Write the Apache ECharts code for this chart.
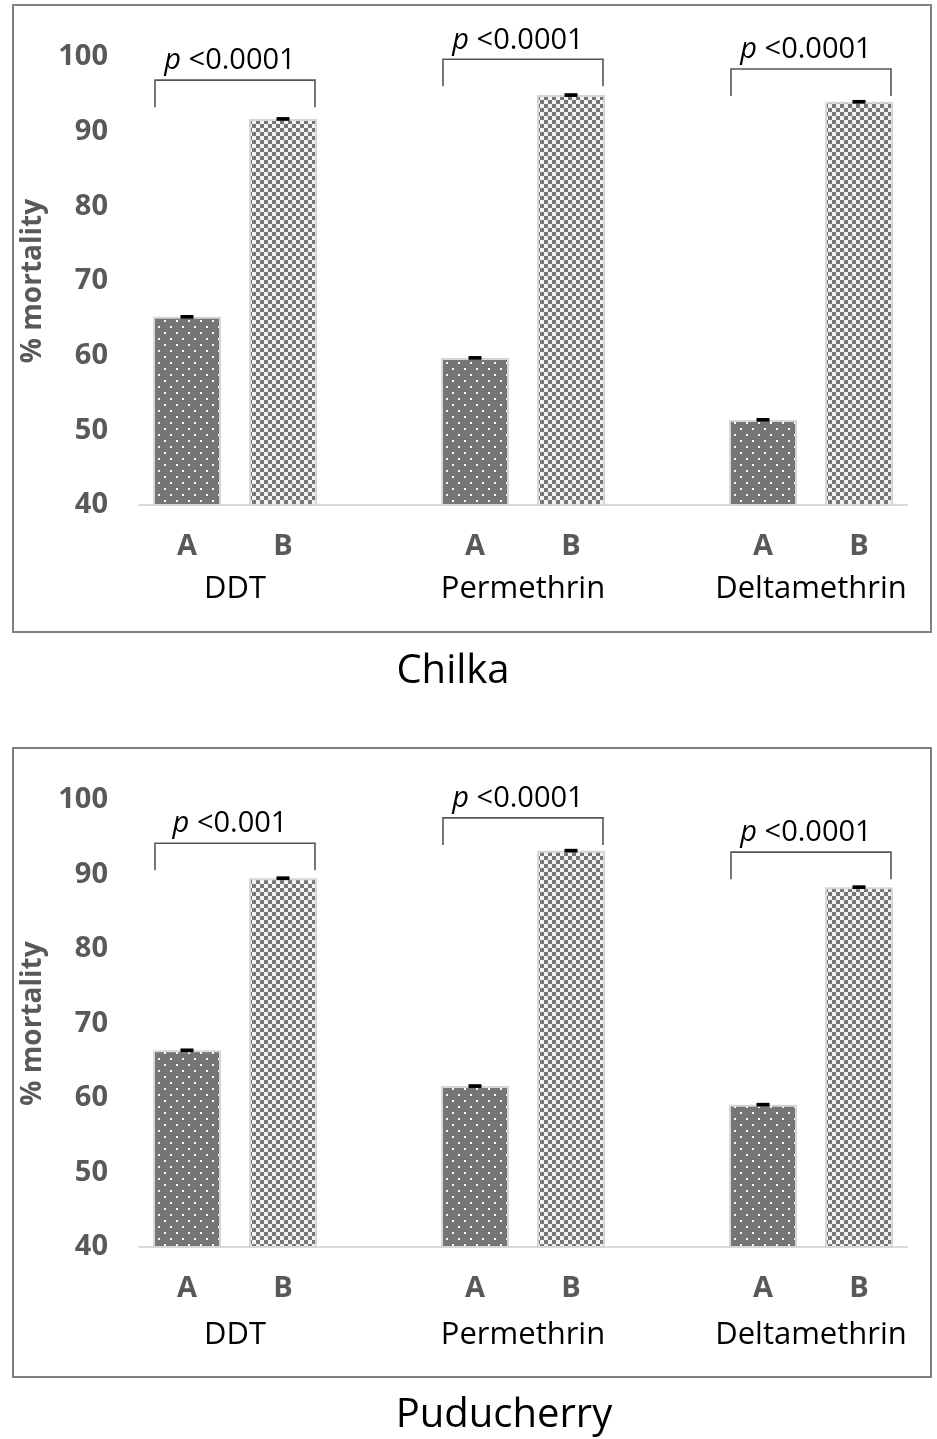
<!DOCTYPE html>
<html><head><meta charset="utf-8">
<script src="https://cdn.jsdelivr.net/npm/echarts@6/dist/echarts.min.js"></script>
<style>html,body{margin:0;padding:0;background:#fff}#main{width:937px;height:1439px}</style>
</head><body><div id="main"></div>
<script>
// ---- data ----
const insecticides = ['DDT', 'Permethrin', 'Deltamethrin'];
const strains = ['A', 'B'];
const sites = ['Chilka', 'Puducherry'];
const yAxisName = '% mortality';
const yMin = 40, yMax = 100, yStep = 10;

const chilkaA = [65.2, 59.7, 51.4];
const chilkaB = [91.7, 94.9, 94.0];
const chilkaErrA = [0.25, 0.25, 0.25];
const chilkaErrB = [0.25, 0.25, 0.25];
const chilkaP = ['<0.0001', '<0.0001', '<0.0001'];
const chilkaBracket = [96.9, 99.7, 98.4];

const puduA = [66.4, 61.6, 59.1];
const puduB = [89.5, 93.2, 88.3];
const puduErrA = [0.25, 0.25, 0.25];
const puduErrB = [0.25, 0.25, 0.25];
const puduP = ['<0.001', '<0.0001', '<0.0001'];
const puduBracket = [94.2, 97.6, 93.0];

// ---- build ----
const FONT = '"Open Sans", "Noto Sans", sans-serif';
const slotCats = [];
insecticides.forEach((n, g) => {
  strains.forEach(s => slotCats.push(s));
  if (g < insecticides.length - 1) slotCats.push('');
});
const slotOf = (g, s) => g * (strains.length + 1) + s;

function dotPattern() {
  const c = document.createElement('canvas'); c.width = 12; c.height = 12;
  const x = c.getContext('2d');
  x.fillStyle = '#757575'; x.fillRect(0, 0, 12, 12);
  x.fillStyle = '#ffffff'; x.fillRect(2, 2, 2, 2); x.fillRect(8, 8, 2, 2);
  return c;
}
function checkPattern() {
  const c = document.createElement('canvas'); c.width = 8; c.height = 8;
  const x = c.getContext('2d');
  x.fillStyle = '#f3f3f3'; x.fillRect(0, 0, 8, 8);
  x.fillStyle = '#767676'; x.fillRect(0, 0, 4, 4); x.fillRect(4, 4, 4, 4);
  return c;
}
const patA = { image: dotPattern(), repeat: 'repeat' };
const patB = { image: checkPattern(), repeat: 'repeat' };

const panels = [
  { A: chilkaA, B: chilkaB, eA: chilkaErrA, eB: chilkaErrB, p: chilkaP, br: chilkaBracket, top: 57, h: 448, grpMargin: 69 },
  { A: puduA, B: puduB, eA: puduErrA, eB: puduErrB, p: puduP, br: puduBracket, top: 800, h: 447, grpMargin: 73 }
];

const grid = [], xAxis = [], yAxis = [], series = [];
const labelGray = '#595959';
panels.forEach((P, k) => {
  grid.push({ left: 139, width: 768, top: P.top, height: P.h });
  xAxis.push({
    type: 'category', gridIndex: k, data: slotCats, position: 'bottom',
    axisLine: { lineStyle: { color: '#d9d9d9', width: 2 } },
    axisTick: { show: false },
    axisLabel: { interval: 0, margin: 27, fontSize: 29, fontWeight: 'bold', color: labelGray, fontFamily: FONT },
    splitLine: { show: false }
  });
  xAxis.push({
    type: 'value', gridIndex: k, min: 0, max: slotCats.length * 2, interval: 2, position: 'bottom',
    axisLine: { show: false }, axisTick: { show: false }, splitLine: { show: false },
    axisLabel: {
      margin: P.grpMargin, fontSize: 31, color: '#000', fontFamily: FONT, showMinLabel: true, showMaxLabel: true,
      formatter: v => {
        const g = (v - 2) / 6;
        return Number.isInteger(g) && g >= 0 && g < insecticides.length ? insecticides[g] : '';
      }
    }
  });
  yAxis.push({
    type: 'value', gridIndex: k, min: yMin, max: yMax, interval: yStep,
    axisLine: { show: false }, axisTick: { show: false }, splitLine: { show: false },
    axisLabel: { margin: 31, fontSize: 29, fontWeight: 'bold', color: labelGray, fontFamily: FONT },
    name: yAxisName, nameLocation: 'middle', nameRotate: 90, nameGap: 88,
    nameTextStyle: { fontSize: 28, fontWeight: 'bold', color: labelGray, fontFamily: FONT }
  });
  const xi = k * 2;
  const dataA = slotCats.map(() => '-');
  const dataB = slotCats.map(() => '-');
  const err = [];
  insecticides.forEach((n, g) => {
    dataA[slotOf(g, 0)] = P.A[g];
    dataB[slotOf(g, 1)] = P.B[g];
    err.push([slotOf(g, 0), P.A[g], P.eA[g]]);
    err.push([slotOf(g, 1), P.B[g], P.eB[g]]);
  });
  const barStyle = { borderColor: '#d6d6d6', borderWidth: 2 };
  series.push({ type: 'bar', name: strains[0], xAxisIndex: xi, yAxisIndex: k, data: dataA, barWidth: 68, barGap: '-100%',
    itemStyle: Object.assign({ color: patA }, barStyle), emphasis: { disabled: true } });
  series.push({ type: 'bar', name: strains[1], xAxisIndex: xi, yAxisIndex: k, data: dataB, barWidth: 68, barGap: '-100%',
    itemStyle: Object.assign({ color: patB }, barStyle), emphasis: { disabled: true } });
  series.push({
    type: 'custom', xAxisIndex: xi, yAxisIndex: k, data: err, encode: { x: 0, y: 1 }, z: 5,
    renderItem: (params, api) => {
      const c = api.value(0), v = api.value(1), e = api.value(2);
      const t = api.coord([c, v + e]), b = api.coord([c, v - e]);
      return { type: 'rect', shape: { x: t[0] - 6.5, y: t[1], width: 13, height: Math.max(3, b[1] - t[1]) }, style: { fill: '#000' } };
    }
  });
  const brData = insecticides.map((n, g) => [slotOf(g, 0), slotOf(g, 1), P.br[g]]);
  series.push({
    type: 'custom', xAxisIndex: xi, yAxisIndex: k, data: brData, encode: { x: [0, 1], y: 2 }, z: 6, clip: false,
    renderItem: (params, api) => {
      const l = api.coord([api.value(0), api.value(2)]);
      const r = api.coord([api.value(1), api.value(2)]);
      const half = 33, leg = 27;
      const x1 = l[0] - half + 1, x2 = r[0] + half - 1, y = l[1];
      return {
        type: 'group', children: [
          { type: 'polyline', shape: { points: [[x1, y + leg], [x1, y], [x2, y], [x2, y + leg]] },
            style: { stroke: '#555', lineWidth: 1.6, fill: null } },
          { type: 'text', x: (x1 + x2) / 2 - 5, y: y - 19,
            style: { text: '{i|p} ' + P.p[params.dataIndex], fontSize: 29, fontFamily: FONT, fill: '#000',
              align: 'center', verticalAlign: 'middle',
              rich: { i: { fontStyle: 'italic', fontSize: 29, fontFamily: FONT, fill: '#000' } } } }
        ]
      };
    }
  });
});

const graphic = [
  { type: 'rect', shape: { x: 13, y: 5, width: 918, height: 627 }, style: { fill: null, stroke: '#808080', lineWidth: 2 }, z: -10 },
  { type: 'rect', shape: { x: 13, y: 748, width: 918, height: 629 }, style: { fill: null, stroke: '#808080', lineWidth: 2 }, z: -10 },
  { type: 'text', x: 453, y: 672, style: { text: sites[0], fontSize: 40, fontFamily: FONT, fill: '#000', align: 'center', verticalAlign: 'middle' } },
  { type: 'text', x: 504, y: 1416, style: { text: sites[1], fontSize: 40, fontFamily: FONT, fill: '#000', align: 'center', verticalAlign: 'middle' } }
];

const chart = echarts.init(document.getElementById('main'), null, { renderer: 'canvas' });
chart.setOption({ animation: false, backgroundColor: '#fff', grid, xAxis, yAxis, series, graphic });
</script>
</body></html>
